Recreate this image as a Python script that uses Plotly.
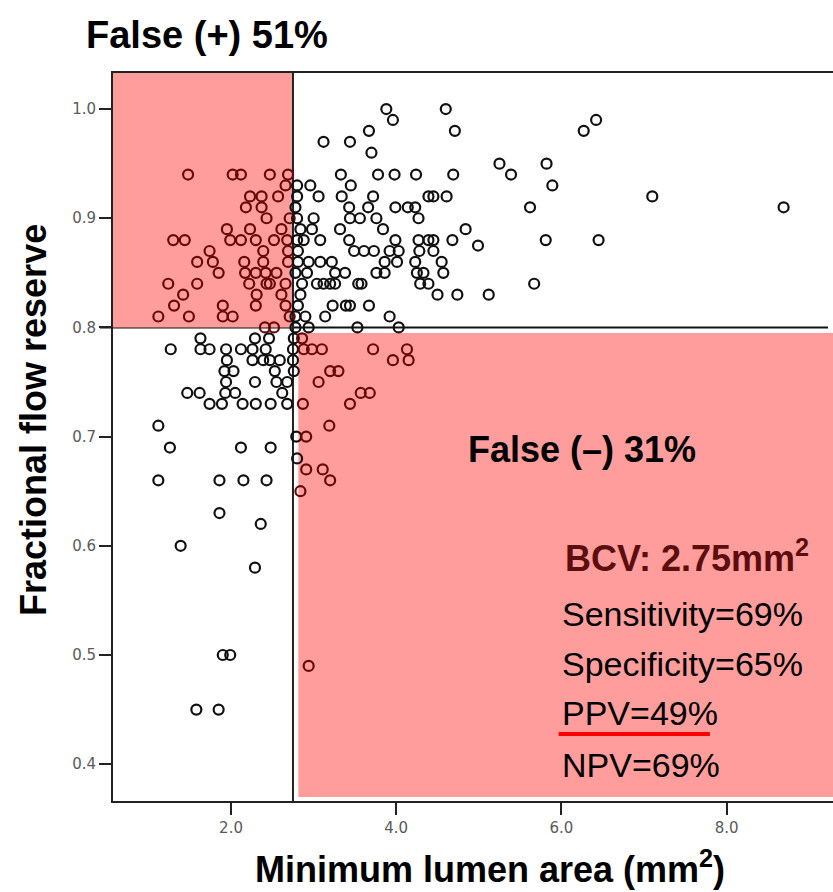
import plotly.graph_objects as go

# ---------------- data (minimum lumen area, FFR) ----------------
mla = [
    # upper-left (MLA < cut-off, FFR > 0.80)
    1.48, 2.02, 2.12, 2.47, 2.69, 2.66, 2.23, 2.37, 2.57, 2.18, 2.37, 2.43, 2.71,
    1.95, 2.23, 2.61, 1.30, 1.44, 1.99, 2.12, 2.30, 2.52, 2.68, 1.74, 2.39, 2.69,
    1.59, 1.78, 2.16, 2.39, 2.69, 1.85, 2.17, 2.30, 2.42, 2.55, 1.24, 1.59, 2.22,
    2.43, 2.47, 2.66, 1.42, 2.31, 2.61, 1.31, 1.90, 2.30, 2.66, 1.12, 1.49, 1.90,
    2.02, 2.71, 2.41, 2.52,
    # upper-right
    3.88, 4.60, 3.96, 6.42, 3.67, 4.71, 6.27, 3.12, 3.44, 3.70, 5.25, 5.82,
    3.33, 3.78, 3.98, 4.24, 4.69, 5.39, 2.80, 2.96, 3.45, 5.89,
    2.80, 3.06, 3.34, 3.72, 4.39, 4.45, 4.61, 7.10,
    2.78, 3.43, 3.66, 3.99, 4.14, 4.23, 5.62, 8.69,
    2.80, 3.00, 3.44, 3.56, 3.76, 4.27,
    2.84, 2.98, 3.32, 3.84, 4.84,
    2.80, 2.88, 3.08, 3.43, 3.99, 4.27, 4.39, 4.45, 4.68, 5.81, 6.45, 4.99,
    2.81, 3.49, 3.61, 3.73, 3.92, 4.03, 4.28, 4.45,
    2.81, 2.94, 3.08, 3.22, 3.86, 4.01, 4.23, 4.55,
    2.78, 2.92, 3.26, 3.38, 3.76, 3.86, 4.25, 4.33, 4.57,
    2.86, 3.04, 3.12, 3.20, 3.26, 3.54, 3.58, 4.29, 4.39, 5.67,
    2.84, 4.50, 4.74, 5.12,
    2.81, 3.23, 3.39, 3.44, 3.67,
    2.78, 2.90, 3.14, 3.92,
    2.78, 2.94, 3.53, 4.03,
    # lower-left
    1.63, 2.29, 2.46, 2.76,
    1.27, 1.63, 1.74, 1.94, 2.12, 2.26, 2.42, 2.75,
    1.95, 2.26, 2.39, 2.47, 2.59, 2.75,
    1.92, 2.03, 2.53, 2.76,
    1.94, 2.29, 2.55, 2.68,
    1.47, 1.62, 1.93, 2.05, 2.62,
    1.74, 1.89, 2.14, 2.30, 2.48, 2.68,
    1.12, 2.79, 1.26, 2.12, 2.48, 2.80,
    1.12, 1.86, 2.15, 2.43, 1.86, 2.36, 1.39, 2.29,
    1.90, 1.99, 1.58, 1.85,
    # lower-right (MLA > cut-off, FFR < 0.80)
    2.86, 2.88, 2.98, 3.10, 3.72, 4.13, 3.96, 4.15, 3.20, 3.30, 3.06,
    3.57, 3.68, 2.87, 3.44, 3.19, 2.91, 2.91, 3.11, 3.20, 2.84, 2.94,
]
ffr = [
    0.94, 0.94, 0.94, 0.94, 0.94, 0.93, 0.92, 0.92, 0.92, 0.91, 0.91, 0.90, 0.90,
    0.89, 0.89, 0.89, 0.88, 0.88, 0.88, 0.88, 0.88, 0.88, 0.88, 0.87, 0.87, 0.87,
    0.86, 0.86, 0.86, 0.86, 0.86, 0.85, 0.85, 0.85, 0.85, 0.85, 0.84, 0.84, 0.84,
    0.84, 0.84, 0.84, 0.83, 0.83, 0.83, 0.82, 0.82, 0.82, 0.82, 0.81, 0.81, 0.81,
    0.81, 0.81, 0.80, 0.80,
    1.00, 1.00, 0.99, 0.99, 0.98, 0.98, 0.98, 0.97, 0.97, 0.96, 0.95, 0.95,
    0.94, 0.94, 0.94, 0.94, 0.94, 0.94, 0.93, 0.93, 0.93, 0.93,
    0.92, 0.92, 0.92, 0.92, 0.92, 0.92, 0.92, 0.92,
    0.91, 0.91, 0.91, 0.91, 0.91, 0.91, 0.91, 0.91,
    0.90, 0.90, 0.90, 0.90, 0.90, 0.90,
    0.89, 0.89, 0.89, 0.89, 0.89,
    0.88, 0.88, 0.88, 0.88, 0.88, 0.88, 0.88, 0.88, 0.88, 0.88, 0.88, 0.875,
    0.87, 0.87, 0.87, 0.87, 0.87, 0.87, 0.87, 0.87,
    0.86, 0.86, 0.86, 0.86, 0.86, 0.86, 0.86, 0.86,
    0.85, 0.85, 0.85, 0.85, 0.85, 0.85, 0.85, 0.85, 0.85,
    0.84, 0.84, 0.84, 0.84, 0.84, 0.84, 0.84, 0.84, 0.84, 0.84,
    0.83, 0.83, 0.83, 0.83,
    0.82, 0.82, 0.82, 0.82, 0.82,
    0.81, 0.81, 0.81, 0.81,
    0.80, 0.80, 0.80, 0.80,
    0.79, 0.79, 0.79, 0.79,
    0.78, 0.78, 0.78, 0.78, 0.78, 0.78, 0.78, 0.78,
    0.77, 0.77, 0.77, 0.77, 0.77, 0.77,
    0.76, 0.76, 0.76, 0.76,
    0.75, 0.75, 0.75, 0.75,
    0.74, 0.74, 0.74, 0.74, 0.74,
    0.73, 0.73, 0.73, 0.73, 0.73, 0.73,
    0.71, 0.70, 0.69, 0.69, 0.69, 0.68,
    0.66, 0.66, 0.66, 0.66, 0.63, 0.62, 0.60, 0.58,
    0.50, 0.50, 0.45, 0.45,
    0.79, 0.78, 0.78, 0.78, 0.78, 0.78, 0.77, 0.77, 0.76, 0.76, 0.75,
    0.74, 0.74, 0.73, 0.73, 0.71, 0.70, 0.67, 0.67, 0.66, 0.65, 0.49,
]

x_ticks = [2.0, 4.0, 6.0, 8.0]
x_tick_labels = ["2.0", "4.0", "6.0", "8.0"]
y_ticks = [0.4, 0.5, 0.6, 0.7, 0.8, 0.9, 1.0]
y_tick_labels = ["0.4", "0.5", "0.6", "0.7", "0.8", "0.9", "1.0"]

MLA_CUT = 2.75
FFR_CUT = 0.80
X_RANGE = [0.571, 9.288]
Y_RANGE = [0.3663, 1.0330]
BR_X0, BR_Y0, BR_Y1 = 2.815, 0.370, 0.795

title_fp = "False (+) 51%"
title_fn = "False (\u2013) 31%"
bcv_text = "BCV: 2.75mm<sup>2</sup>"
stats = ["Sensitivity=69%", "Specificity=65%", "PPV=49%", "NPV=69%"]

PINK = "#FF9D9D"
DARKRED = "#6A0808"
FONT = "Liberation Sans, Arial, sans-serif"

colors = []
for xv, yv in zip(mla, ffr):
    in_tl = xv < MLA_CUT and yv >= FFR_CUT
    in_br = xv >= BR_X0 and yv < BR_Y1
    colors.append(DARKRED if (in_tl or in_br) else "#111111")

fig = go.Figure()
fig.add_trace(go.Scatter(
    x=mla, y=ffr, mode="markers",
    marker=dict(symbol="circle-open", size=10, color=colors, line=dict(width=2.2)),
    hoverinfo="x+y", showlegend=False,
))

shapes = [
    dict(type="rect", xref="x", yref="y", x0=X_RANGE[0], x1=MLA_CUT, y0=FFR_CUT, y1=Y_RANGE[1],
         fillcolor=PINK, line=dict(width=0), layer="below"),
    dict(type="rect", xref="x", yref="y", x0=BR_X0, x1=X_RANGE[1], y0=BR_Y0, y1=BR_Y1,
         fillcolor=PINK, line=dict(width=0), layer="below"),
    dict(type="line", xref="x", yref="y", x0=MLA_CUT, x1=MLA_CUT, y0=Y_RANGE[0], y1=Y_RANGE[1],
         line=dict(color="#222222", width=2), layer="below"),
    dict(type="line", xref="paper", yref="y", x0=-0.018, x1=0.993, y0=FFR_CUT, y1=FFR_CUT,
         line=dict(color="#111111", width=2), layer="below"),
    dict(type="line", xref="paper", yref="paper", x0=0.619, x1=0.829, y0=0.092, y1=0.092,
         line=dict(color="#FF0000", width=4)),
]

ann = [
    dict(text=title_fp, x=0.1306, y=1.0522, font=dict(size=38, color="black", family=FONT, weight="bold")),
    dict(text=title_fn, x=0.651, y=0.4835, font=dict(size=36, color="black", family=FONT, weight="bold")),
    dict(text=bcv_text, x=0.625, y=0.3365, xanchor="left",
         font=dict(size=36, color="#5C0D0D", family=FONT, weight="bold")),
    dict(text="Minimum lumen area (mm<sup>2</sup>)", x=0.5236, y=-0.0907,
         font=dict(size=36, color="black", family=FONT, weight="bold")),
    dict(text="Fractional flow reserve", x=-0.1097, y=0.5234, textangle=-90,
         font=dict(size=36, color="black", family=FONT, weight="bold")),
]
stat_y = [0.257, 0.188, 0.121, 0.049]
for s, yy in zip(stats, stat_y):
    ann.append(dict(text=s, x=0.621, y=yy, xanchor="left",
                    font=dict(size=34, color="black", family=FONT)))
for a in ann:
    a.setdefault("xanchor", "center")
    a.update(xref="paper", yref="paper", yanchor="middle", showarrow=False)

fig.update_layout(
    width=833, height=892,
    margin=dict(l=113, r=0, t=73, b=91),
    plot_bgcolor="white", paper_bgcolor="white",
    shapes=shapes, annotations=ann,
    xaxis=dict(range=X_RANGE, tickvals=x_ticks, ticktext=x_tick_labels,
               showline=True, linecolor="#222222", linewidth=2, mirror=True,
               ticks="outside", ticklen=12, tickwidth=2, tickcolor="#222222",
               showgrid=False, zeroline=False,
               tickfont=dict(family="DejaVu Sans", size=15, color="#5A5A5A")),
    yaxis=dict(range=Y_RANGE, tickvals=y_ticks, ticktext=y_tick_labels,
               showline=True, linecolor="#222222", linewidth=2,
               ticks="outside", ticklen=12, tickwidth=2, tickcolor="#222222",
               showgrid=False, zeroline=False,
               tickfont=dict(family="DejaVu Sans", size=15, color="#5A5A5A")),
)

fig.write_html("out.html")
